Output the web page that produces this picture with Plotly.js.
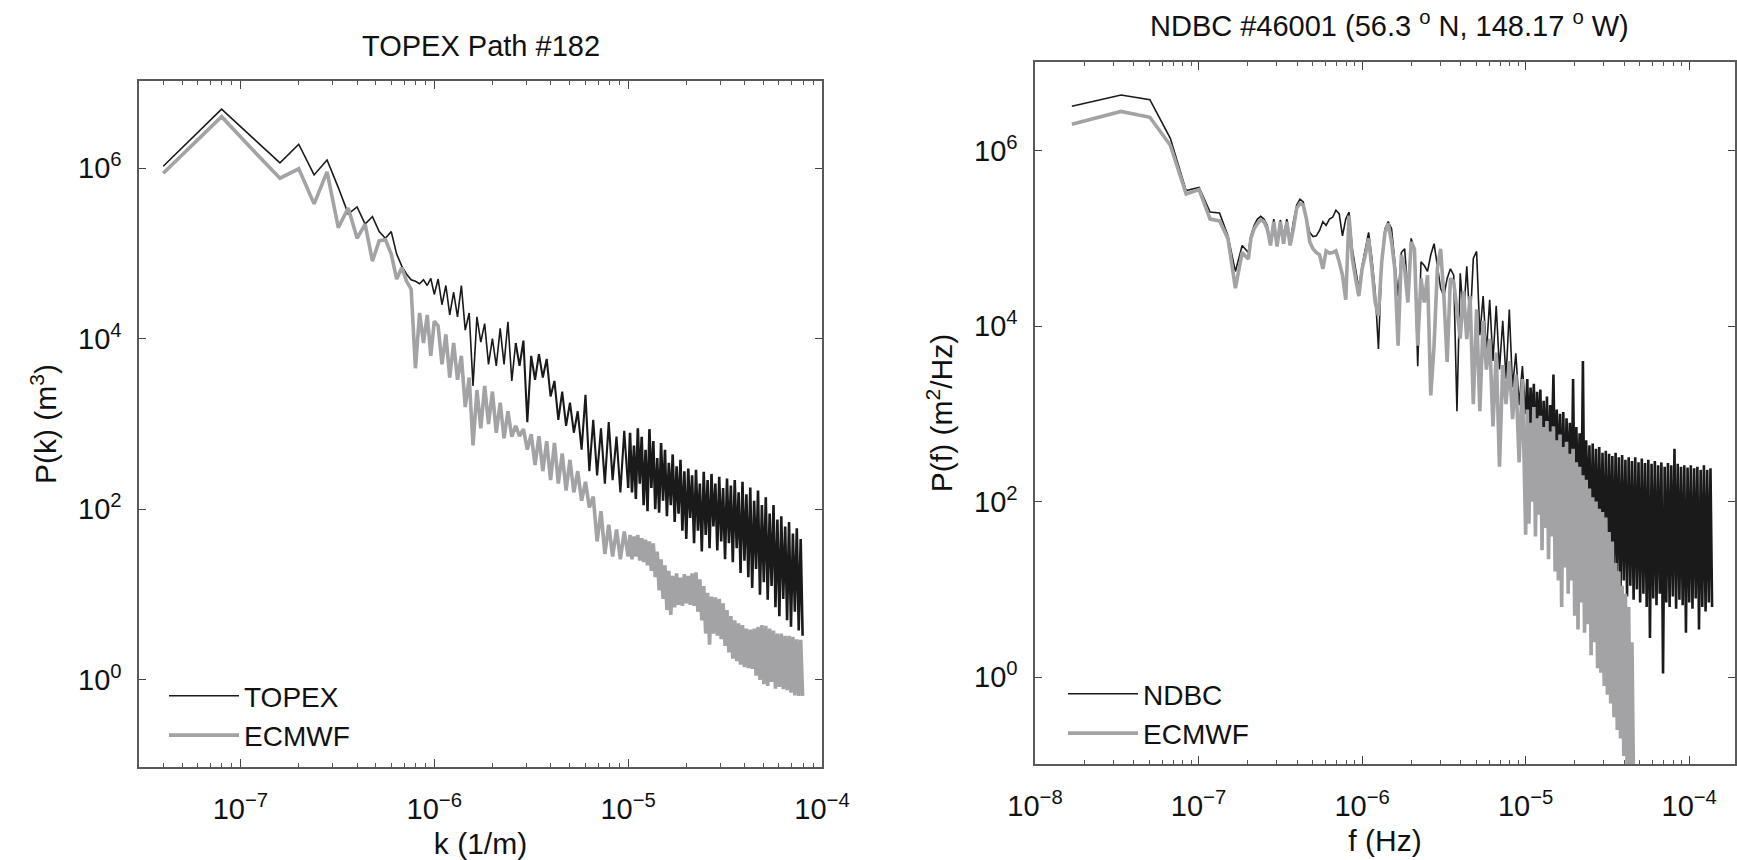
<!DOCTYPE html>
<html>
<head>
<meta charset="utf-8">
<script src="https://cdn.plot.ly/plotly-3.0.1.min.js"></script>
<style>
  html, body { margin: 0; padding: 0; background: #ffffff; }
  #chart { width: 1737px; height: 860px; }
</style>
</head>
<body>
<div id="chart"></div>
<script>
// ---------- Left panel: TOPEX Path #182 (wavenumber spectra) ----------
const topexK = [
  4e-8,8e-8,1.2e-7,1.6e-7,2e-7,2.4e-7,2.8e-7,3.2e-7,3.6e-7,4e-7,4.4e-7,4.8e-7,5.2e-7,5.6e-7,6e-7,6.4e-7,6.8e-7,7.2e-7,7.6e-7,8e-7,8.4e-7,8.8e-7,9.2e-7,9.6e-7,1e-6,
  1.047e-6,1.096e-6,1.148e-6,1.202e-6,1.259e-6,1.318e-6,1.380e-6,1.445e-6,1.514e-6,1.585e-6,1.660e-6,1.738e-6,1.820e-6,1.905e-6,1.995e-6,2.089e-6,2.188e-6,2.291e-6,2.399e-6,2.512e-6,
  2.630e-6,2.754e-6,2.884e-6,3.020e-6,3.162e-6,3.311e-6,3.467e-6,3.631e-6,3.802e-6,3.981e-6,4.169e-6,4.365e-6,4.571e-6,4.786e-6,5.012e-6,5.248e-6,5.495e-6,5.754e-6,6.026e-6,6.310e-6,
  6.607e-6,6.918e-6,7.244e-6,7.586e-6,7.943e-6,8.318e-6,8.710e-6,9.120e-6,9.550e-6,1.000e-5,
  1.023e-5,1.047e-5,1.072e-5,1.096e-5,1.122e-5,1.148e-5,1.175e-5,1.202e-5,1.230e-5,1.259e-5,
  1.288e-5,1.318e-5,1.349e-5,1.380e-5,1.413e-5,1.445e-5,1.479e-5,1.514e-5,1.549e-5,1.585e-5,
  1.622e-5,1.660e-5,1.698e-5,1.738e-5,1.778e-5,1.820e-5,1.862e-5,1.905e-5,1.950e-5,1.995e-5,
  2.042e-5,2.089e-5,2.138e-5,2.188e-5,2.239e-5,2.291e-5,2.344e-5,2.399e-5,2.455e-5,2.512e-5,
  2.570e-5,2.630e-5,2.692e-5,2.754e-5,2.818e-5,2.884e-5,2.951e-5,3.020e-5,3.090e-5,3.162e-5,
  3.236e-5,3.311e-5,3.388e-5,3.467e-5,3.548e-5,3.631e-5,3.715e-5,3.802e-5,3.890e-5,3.981e-5,
  4.074e-5,4.169e-5,4.266e-5,4.365e-5,4.467e-5,4.571e-5,4.677e-5,4.786e-5,4.898e-5,5.012e-5,
  5.129e-5,5.248e-5,5.370e-5,5.495e-5,5.623e-5,5.754e-5,5.888e-5,6.026e-5,6.166e-5,6.310e-5,
  6.457e-5,6.607e-5,6.761e-5,6.918e-5,7.079e-5,7.244e-5,7.413e-5,7.586e-5,7.762e-5,7.943e-5
];
const topexP = [
  1.05e6,4.9e6,2.1e6,1.15e6,1.9e6,8.3e5,1.24e6,5.9e5,2.9e5,3.5e5,2.2e5,2.7e5,1.8e5,1.5e5,1.8e5,9.8e4,7.1e4,5.7e4,4.9e4,4.7e4,4.4e4,4.9e4,4.2e4,5.1e4,3.3e4,
  5.0e4,2.5e4,4.2e4,1.9e4,3.5e4,1.8e4,4.2e4,1.26e4,2.0e4,2.8e3,
  1.8e4,9.1e3,1.5e4,5.0e3,1.0e4,4.8e3,1.32e4,5.0e3,1.58e4,3.2e3,
  8.9e3,4.8e3,9.5e3,1.05e3,6.3e3,3.3e3,6.6e3,3.5e3,5.8e3,2.1e3,
  3.2e3,1.12e3,2.4e3,9.5e2,1.78e3,7.9e2,1.41e3,5.0e2,2.2e3,2.8e2,
  1.12e3,2.5e2,8.9e2,2.0e2,1.05e3,2.2e2,7.1e2,1.58e2,8.3e2,1.78e2,
  7.9e2,1.58e2,5.6e2,1.32e2,8.9e2,2.0e2,7.1e2,1.12e2,5.0e2,95,
  8.7e2,1.78e2,6.3e2,1.0e2,4.0e2,91,6.0e2,1.26e2,5.0e2,83,
  3.5e2,1.12e2,4.4e2,71,3.2e2,89,3.8e2,56,2.8e2,45,
  3.0e2,79,2.5e2,40,2.9e2,56,2.0e2,32,2.75e2,50,
  2.2e2,35,2.6e2,63,2.0e2,33,2.4e2,42,1.78e2,26,
  2.3e2,40,1.9e2,24,2.2e2,35,1.58e2,18,2.1e2,25,
  1.5e2,16,1.8e2,12,1.26e2,20,1.66e2,10,1.12e2,14,
  1.38e2,8.7,89,12.6,1.12e2,7.1,76,5.6,83,8.9,
  63,5.0,71,4.2,52,6.3,60,3.8,45,3.3
];
const ecmwfLeftP = [
  8.7e5,4.0e6,1.5e6,7.6e5,9.8e5,3.8e5,9.0e5,2.0e5,3.4e5,1.5e5,2.2e5,8.1e4,1.4e5,1.45e5,9.8e4,5.0e4,6.8e4,4.7e4,3.8e4,4.5e3,2.0e4,8.9e3,1.9e4,6.3e3,1.6e4,
  1.41e4,5.0e3,1.12e4,3.5e3,8.9e3,3.3e3,6.3e3,1.58e3,3.5e3,5.6e2,
  2.5e3,8.9e2,2.8e3,1.0e3,2.4e3,7.9e2,1.78e3,6.8e2,1.41e3,7.1e2,
  9.5e2,7.2e2,8.7e2,5.0e2,7.6e2,3.3e2,7.2e2,2.8e2,6.3e2,2.2e2,
  6.0e2,2.0e2,4.5e2,1.66e2,3.8e2,1.58e2,2.8e2,1.26e2,2.1e2,1.05e2,
  1.41e2,42,95,30,66,28,58,26,55,28,
  50,26,48,28,50,25,46,24,44,22,
  42,19,40,16,32,11.2,26,8.9,22,6.6,
  19,5.8,16.6,7.1,17.8,7.6,15.8,7.4,17.4,7.9,
  16.6,7.6,17.8,7.4,18.2,6.3,15.1,5.0,12.6,3.5,
  10.5,2.6,9.5,3.5,9.3,3.3,8.9,3.0,7.9,2.5,
  6.6,2.1,5.6,1.78,5.0,1.66,4.6,1.51,4.4,1.41,
  4.0,1.38,3.9,1.35,4.0,1.12,4.2,1.0,4.4,0.89,
  4.3,0.85,4.0,0.95,3.8,0.79,3.5,0.83,3.5,0.78,
  3.3,0.76,3.3,0.71,3.2,0.66,3.0,0.65,2.95,0.65
];

// ---------- Right panel: NDBC #46001 (frequency spectra) ----------
const ndbcF = [
  1.68e-8,3.36e-8,5.04e-8,6.72e-8,8.4e-8,1.008e-7,1.176e-7,1.344e-7,1.512e-7,1.68e-7,1.848e-7,2.016e-7,
  2.089e-7,2.188e-7,2.291e-7,2.399e-7,2.512e-7,2.630e-7,2.754e-7,2.884e-7,3.020e-7,3.162e-7,3.311e-7,3.467e-7,3.631e-7,3.802e-7,3.981e-7,
  4.169e-7,4.365e-7,4.571e-7,4.786e-7,5.012e-7,5.248e-7,5.495e-7,5.754e-7,6.026e-7,6.310e-7,6.607e-7,6.918e-7,7.244e-7,7.586e-7,7.943e-7,
  8.318e-7,8.710e-7,9.120e-7,9.550e-7,1.000e-6,
  1.047e-6,1.096e-6,1.148e-6,1.202e-6,1.259e-6,1.318e-6,1.380e-6,1.445e-6,1.514e-6,1.585e-6,1.660e-6,1.738e-6,1.820e-6,1.905e-6,1.995e-6,2.089e-6,2.188e-6,2.291e-6,2.399e-6,2.512e-6,
  2.630e-6,2.754e-6,2.884e-6,3.020e-6,3.162e-6,3.311e-6,3.467e-6,3.631e-6,3.802e-6,3.981e-6,4.169e-6,4.365e-6,4.571e-6,4.786e-6,5.012e-6,5.248e-6,5.495e-6,5.754e-6,6.026e-6,6.310e-6,
  6.607e-6,6.918e-6,7.244e-6,7.586e-6,7.943e-6,8.318e-6,8.710e-6,9.120e-6,9.550e-6,1.000e-5,
  1.023e-5,1.047e-5,1.072e-5,1.096e-5,1.122e-5,1.148e-5,1.175e-5,1.202e-5,1.230e-5,1.259e-5,
  1.288e-5,1.318e-5,1.349e-5,1.380e-5,1.413e-5,1.445e-5,1.479e-5,1.514e-5,1.549e-5,1.585e-5,
  1.622e-5,1.660e-5,1.698e-5,1.738e-5,1.778e-5,1.820e-5,1.862e-5,1.905e-5,1.950e-5,1.995e-5,
  2.042e-5,2.089e-5,2.138e-5,2.188e-5,2.239e-5,2.291e-5,2.344e-5,2.399e-5,2.455e-5,2.512e-5,
  2.570e-5,2.630e-5,2.692e-5,2.754e-5,2.818e-5,2.884e-5,2.951e-5,3.020e-5,3.090e-5,3.162e-5,
  3.236e-5,3.311e-5,3.388e-5,3.467e-5,3.548e-5,3.631e-5,3.715e-5,3.802e-5,3.890e-5,3.981e-5,
  4.074e-5,4.169e-5,4.266e-5,4.365e-5,4.467e-5,4.571e-5,4.677e-5,4.786e-5,4.898e-5,5.012e-5,
  5.129e-5,5.248e-5,5.370e-5,5.495e-5,5.623e-5,5.754e-5,5.888e-5,6.026e-5,6.166e-5,6.310e-5,
  6.457e-5,6.607e-5,6.761e-5,6.918e-5,7.079e-5,7.244e-5,7.413e-5,7.586e-5,7.762e-5,7.943e-5,
  8.128e-5,8.318e-5,8.511e-5,8.710e-5,8.913e-5,9.120e-5,9.333e-5,9.550e-5,9.772e-5,1.000e-4,
  1.023e-4,1.047e-4,1.072e-4,1.096e-4,1.122e-4,1.148e-4,1.175e-4,1.202e-4,1.230e-4,1.259e-4,
  1.288e-4,1.318e-4,1.349e-4,1.380e-4
];
const ndbcP = [
  3.2e6,4.3e6,3.8e6,1.38e6,3.5e5,3.8e5,2.0e5,1.95e5,1.07e5,4.2e4,8.3e4,6.9e4,
  1.07e5,1.41e5,1.66e5,1.78e5,1.66e5,1.41e5,9.1e4,1.66e5,8.7e4,1.62e5,
  1.07e5,1.66e5,9.1e4,1.55e5,2.4e5,2.8e5,2.6e5,1.66e5,1.17e5,1.05e5,
  1.07e5,1.23e5,1.55e5,1.41e5,1.66e5,1.74e5,2.1e5,1.9e5,1.07e5,1.66e5,
  2.0e5,7.6e4,4.5e4,2.7e4,4.9e4,7.6e4,1.17e5,5.9e4,2.5e4,5.5e3,
  5.4e4,1.29e5,1.55e5,1.29e5,5.4e4,2.2e4,6.9e4,7.6e4,2.5e4,1.0e5,
  7.6e4,3.5e3,5.4e4,4.9e4,4.2e4,6.5e4,8.7e4,4.9e4,2.7e4,2.2e4,
  3.5e4,4.5e4,3.8e4,
  1.07e3,4.0e4,1.26e4,4.8e4,1.0e4,5.9e4,7.1e4,7.9e3,2.2e4,5.0e3,
  2.0e4,4.0e3,1.7e4,3.2e3,1.15e4,2.5e3,1.55e4,2.0e3,4.9e3,1.26e3,
  3.5e3,1.0e3,
  2.5e3,4.0e2,2.0e3,6.3e2,2.2e3,2.8e2,1.78e3,5.0e2,1.9e3,2.2e2,
  1.41e3,3.2e2,1.58e3,1.78e2,1.26e3,4.0e2,2.8e3,1.41e2,1.12e3,2.0e2,
  1.0e3,1.12e2,1.05e3,89,8.9e2,1.58e2,7.9e2,63,2.5e3,56,
  7.1e2,1.0e2,6.0e2,42,4.0e3,32,5.0e2,63,4.4e2,25,
  4.6e2,35,4.0e2,20,4.2e2,28,3.6e2,16,3.8e2,14,
  3.5e2,22,3.3e2,11,3.6e2,16,3.2e2,9.5,3.4e2,12.6,
  3.0e2,8.3,3.2e2,11,2.9e2,7.6,3.2e2,10,2.8e2,7.1,
  3.1e2,8.9,2.75e2,6.3,3.0e2,2.8,2.7e2,7.9,2.9e2,6.6,
  2.6e2,8.9,2.8e2,1.1,2.5e2,7.1,2.75e2,6.3,2.6e2,8.3,
  4.0e2,6.0,2.7e2,7.6,2.5e2,6.6,2.6e2,3.2,2.45e2,7.1,
  2.6e2,6.0,2.4e2,7.9,2.5e2,3.5,2.3e2,6.3,2.6e2,5.6,
  2.3e2,7.1,2.4e2,6.3
];
// ECMWF at the buoy: drops below the plotted range near 4.5e-5 Hz, so the array is shorter
const ecmwfRightP = [
  2.0e6,2.8e6,2.4e6,1.15e6,3.2e5,3.6e5,1.66e5,1.58e5,1.0e5,2.7e4,6.9e4,5.8e4,
  1.0e5,1.29e5,1.48e5,1.62e5,1.55e5,1.29e5,8.3e4,1.55e5,8.1e4,1.55e5,
  8.7e4,1.55e5,8.3e4,1.29e5,2.2e5,2.5e5,2.4e5,1.66e5,9.1e4,7.6e4,
  6.9e4,6.5e4,4.5e4,7.2e4,6.8e4,6.9e4,7.2e4,5.4e4,3.8e4,2.0e4,
  1.82e5,5.9e4,3.5e4,2.2e4,4.5e4,6.5e4,1.0e5,4.5e4,1.86e4,1.32e4,
  5.4e4,1.17e5,1.48e5,9.1e4,4.5e4,6.0e3,6.5e4,4.5e4,1.86e4,9.1e4,
  7.6e4,6.0e3,3.5e4,1.86e4,3.8e4,1.62e3,6.0e3,4.5e4,7.6e4,2.2e4,
  3.9e3,3.5e4,3.2e4,
  1.55e4,7.2e3,2.5e4,7.1e3,2.2e4,1.29e3,1.55e4,1.07e3,1.15e4,3.2e3,
  7.2e3,7.2e2,5.0e3,2.5e2,3.6e3,1.29e3,4.0e3,8.7e2,2.8e3,2.8e2,
  2.5e3,42,
  1.12e3,56,7.9e2,1.0e2,1.2e3,40,8.9e2,71,9.5e2,28,
  7.1e2,50,8.3e2,22,6.3e2,40,7.2e2,16,5.0e2,12.6,
  5.8e2,6.3,4.2e2,17.8,4.8e2,8.9,3.5e2,12.6,4.0e2,5.0,
  2.8e2,3.5,2.5e2,7.1,2.0e2,3.2,1.78e2,4.0,1.41e2,1.78,
  1.12e2,2.5,1.0e2,1.26,83,1.12,76,0.79,66,0.63,
  45,0.50,35,0.35,20,0.25,16,0.20,11,0.126,
  8.9,0.10,6.3,0.079,2.5,0.05,0.032
];

// ---------- Tick labels ----------
const xTickValsLeft = [1e-7, 1e-6, 1e-5, 1e-4];
const xTickTextLeft = ['10<sup>\u22127</sup>', '10<sup>\u22126</sup>', '10<sup>\u22125</sup>', '10<sup>\u22124</sup>'];
const xTickValsRight = [1e-8, 1e-7, 1e-6, 1e-5, 1e-4];
const xTickTextRight = ['10<sup>\u22128</sup>', '10<sup>\u22127</sup>', '10<sup>\u22126</sup>', '10<sup>\u22125</sup>', '10<sup>\u22124</sup>'];
const yTickVals = [1, 1e2, 1e4, 1e6];
const yTickText = ['10<sup>0</sup>', '10<sup>2</sup>', '10<sup>4</sup>', '10<sup>6</sup>'];

function minorTicks(lo, hi) {
  const out = [];
  for (let d = -9; d <= -3; d++) {
    for (let m = 2; m <= 9; m++) {
      const v = m * Math.pow(10, d);
      if (v > lo * 1.0001 && v < hi) out.push(v);
    }
  }
  return out;
}

const FONT = '"Liberation Sans", Arial, Helvetica, sans-serif';
const W = 1737, H = 860;
const TXT = '#111111';

function xAxis(domain, range, tv, tt, lo, hi, title, anchor) {
  return {
    type: 'log', domain: domain, range: range, anchor: anchor,
    showgrid: false, zeroline: false, showline: true, linecolor: '#5a5a5a', linewidth: 1.6,
    mirror: 'allticks', ticks: 'inside', ticklen: 8, tickwidth: 1, tickcolor: '#444',
    tickmode: 'array', tickvals: tv, ticktext: tt,
    tickfont: {family: FONT, size: 29, color: TXT}, ticklabelstandoff: 16,
    minor: {tickmode: 'array', tickvals: minorTicks(lo, hi), ticks: 'inside', ticklen: 4, tickwidth: 1, tickcolor: '#555', showgrid: false},
    title: {text: title, font: {family: FONT, size: 30, color: TXT}, standoff: 8},
    automargin: false, fixedrange: true
  };
}
function yAxis(domain, range, title, anchor) {
  return {
    type: 'log', domain: domain, range: range, anchor: anchor,
    showgrid: false, zeroline: false, showline: true, linecolor: '#5a5a5a', linewidth: 1.6,
    mirror: 'allticks', ticks: 'inside', ticklen: 7, tickwidth: 1, tickcolor: '#444',
    tickmode: 'array', tickvals: yTickVals, ticktext: yTickText,
    tickfont: {family: FONT, size: 29, color: TXT}, ticklabelstandoff: 10,
    title: {text: title, font: {family: FONT, size: 30, color: TXT}, standoff: 12},
    automargin: false, fixedrange: true
  };
}

const BLACK = {color: '#1a1a1a', width: 1.6, simplify: false};
// the noisy, densely sampled high-wavenumber / high-frequency part is drawn with a heavier stroke
const BLACK_MID = {color: '#1a1a1a', width: 2.1, simplify: false};
const BLACK_DENSE = {color: '#1a1a1a', width: 2.6, simplify: false};
const GRAY = {color: '#a3a3a6', width: 3.6, simplify: false};

const splitLeftA = 45;  // index of k = 2.63e-6 in topexK
const splitLeftB = 74;  // index of k = 1e-5 in topexK
const splitRight = 96;  // index of f = 1e-5 in ndbcF

const data = [
  {x: topexK.slice(0, splitLeftA + 1), y: topexP.slice(0, splitLeftA + 1), name: 'TOPEX', legendgroup: 'topex', type: 'scatter', mode: 'lines', line: BLACK, xaxis: 'x', yaxis: 'y', legend: 'legend', hoverinfo: 'skip'},
  {x: topexK.slice(splitLeftA, splitLeftB + 1), y: topexP.slice(splitLeftA, splitLeftB + 1), name: 'TOPEX', legendgroup: 'topex', showlegend: false, type: 'scatter', mode: 'lines', line: BLACK_MID, xaxis: 'x', yaxis: 'y', legend: 'legend', hoverinfo: 'skip'},
  {x: topexK.slice(splitLeftB), y: topexP.slice(splitLeftB), name: 'TOPEX', legendgroup: 'topex', showlegend: false, type: 'scatter', mode: 'lines', line: BLACK_DENSE, xaxis: 'x', yaxis: 'y', legend: 'legend', hoverinfo: 'skip'},
  {x: topexK, y: ecmwfLeftP, name: 'ECMWF', type: 'scatter', mode: 'lines', line: GRAY, xaxis: 'x', yaxis: 'y', legend: 'legend', hoverinfo: 'skip'},
  {x: ndbcF.slice(0, splitRight + 1), y: ndbcP.slice(0, splitRight + 1), name: 'NDBC', legendgroup: 'ndbc', type: 'scatter', mode: 'lines', line: BLACK, xaxis: 'x2', yaxis: 'y2', legend: 'legend2', hoverinfo: 'skip'},
  {x: ndbcF.slice(splitRight), y: ndbcP.slice(splitRight), name: 'NDBC', legendgroup: 'ndbc', showlegend: false, type: 'scatter', mode: 'lines', line: BLACK_DENSE, xaxis: 'x2', yaxis: 'y2', legend: 'legend2', hoverinfo: 'skip'},
  {x: ndbcF, y: ecmwfRightP, name: 'ECMWF', type: 'scatter', mode: 'lines', line: GRAY, xaxis: 'x2', yaxis: 'y2', legend: 'legend2', hoverinfo: 'skip'}
];

const legendBase = {
  xanchor: 'left', yanchor: 'top', bgcolor: 'rgba(255,255,255,0)', borderwidth: 0,
  font: {family: FONT, size: 28, color: TXT}, tracegroupgap: 0, itemwidth: 70, traceorder: 'normal'
};

const layout = {
  width: W, height: H,
  margin: {l: 0, r: 0, t: 0, b: 0, pad: 0},
  paper_bgcolor: '#ffffff', plot_bgcolor: '#ffffff',
  font: {family: FONT, size: 28, color: TXT},
  showlegend: true,
  xaxis: xAxis([139 / W, 822 / W], [Math.log10(3e-8), -4], xTickValsLeft, xTickTextLeft, 3e-8, 1e-4, 'k (1/m)', 'y'),
  yaxis: yAxis([1 - 767 / H, 1 - 81 / H], [-1.02, 7.02], 'P(k) (m<sup>3</sup>)', 'x'),
  xaxis2: xAxis([1035 / W, 1735 / W], [-8, -3.72], xTickValsRight, xTickTextRight, 1e-8, 1.9e-4, 'f (Hz)', 'y2'),
  yaxis2: yAxis([1 - 764 / H, 1 - 62 / H], [-0.99, 7.01], 'P(f) (m<sup>2</sup>/Hz)', 'x2'),
  legend: Object.assign({}, legendBase, {x: 164 / W, y: 1 - 671 / H}),
  legend2: Object.assign({}, legendBase, {x: 1063 / W, y: 1 - 669 / H}),
  annotations: [
    {text: 'TOPEX Path #182', x: 481 / W, y: 1 - 46 / H, xref: 'paper', yref: 'paper', xanchor: 'center', yanchor: 'middle', showarrow: false, font: {family: FONT, size: 29, color: TXT}},
    {text: 'NDBC #46001 (56.3 <sup>o</sup> N, 148.17 <sup>o</sup> W)', x: 1389 / W, y: 1 - 24 / H, xref: 'paper', yref: 'paper', xanchor: 'center', yanchor: 'middle', showarrow: false, font: {family: FONT, size: 29, color: TXT}}
  ]
};

Plotly.newPlot('chart', data, layout, {staticPlot: true, displayModeBar: false, responsive: false});
</script>
</body>
</html>
